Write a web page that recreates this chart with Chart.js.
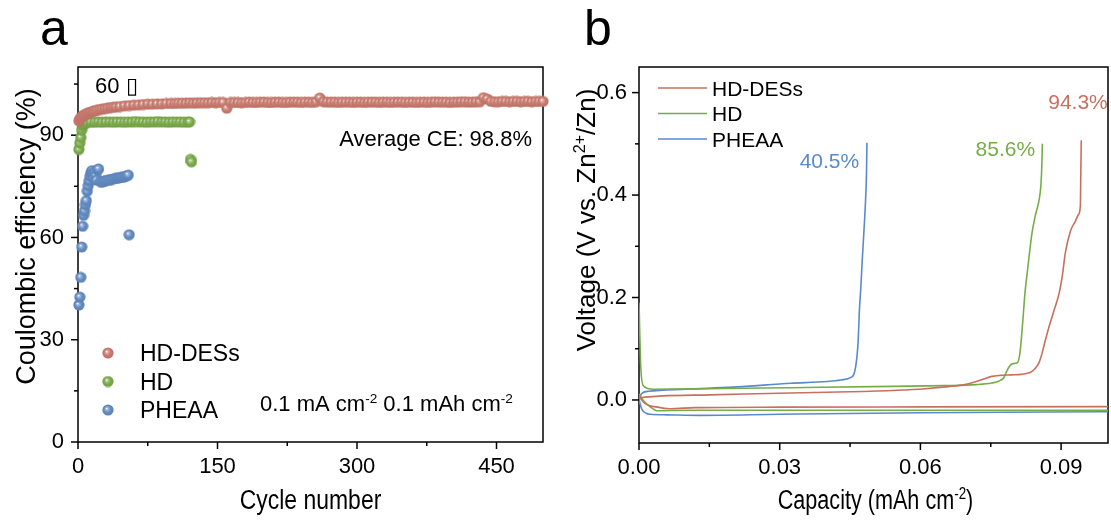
<!DOCTYPE html>
<html>
<head>
<meta charset="utf-8">
<script src="https://cdn.jsdelivr.net/npm/chart.js@4.4.1/dist/chart.umd.min.js"></script>
<style>
  html, body { margin: 0; padding: 0; background: #fff; }
  #wrap { position: relative; width: 1111px; height: 520px; }
  canvas { position: absolute; top: 0; }
  #chartA { left: 0; width: 560px; height: 520px; }
  #chartB { left: 560px; width: 551px; height: 520px; }
</style>
</head>
<body>
<div id="wrap">
  <canvas id="chartA" width="560" height="520"></canvas>
  <canvas id="chartB" width="551" height="520"></canvas>
</div>
<script>
// ---- panel a: coulombic efficiency vs cycle ----
const cycDES = [1, 2, 3, 4, 5, 6, 8, 10, 12, 14, 16, 18, 20, 23, 26, 29, 32, 35, 38, 41, 45, 50, 55, 60, 65, 70, 75, 80, 85, 90, 95,
  100, 104, 108, 112, 116, 120, 124, 128, 132, 136, 140, 144, 148, 152, 156, 160, 164, 168, 172, 176,
  180, 184, 188, 192, 196, 200, 204, 208, 212, 216, 220, 224, 228, 232, 236, 240, 244, 248, 252, 256,
  260, 264, 268, 272, 276, 280, 284, 288, 292, 296, 300, 304, 308, 312, 316, 320, 324, 328, 332, 336,
  340, 344, 348, 352, 356, 360, 364, 368, 372, 376, 380, 384, 388, 392, 396, 400, 404, 408, 412, 416,
  420, 424, 428, 432, 436, 440, 444, 448, 452, 456, 460, 464, 468, 472, 476, 480, 484, 488, 492, 496, 500];
const ceDES = [94.2, 94.7, 95.1, 95.4, 95.6, 95.8, 96.1, 96.4, 96.6, 96.8, 97.0, 97.1, 97.3, 97.5, 97.7, 97.8, 98.0, 98.1, 98.2, 98.3, 98.4, 98.6, 98.7, 98.8, 98.9, 99.0, 99.1, 99.1, 99.2, 99.2, 99.3,
  99.3, 99.3, 99.4, 99.4, 99.4, 99.5, 99.4, 99.5, 99.5, 99.5, 99.5, 99.6, 99.5, 99.6, 99.6, 97.9, 99.6, 99.6, 99.6, 99.5,
  99.6, 99.7, 99.6, 99.6, 99.7, 99.7, 99.6, 99.6, 99.7, 99.7, 99.6, 99.6, 99.7, 99.7, 99.7, 99.6, 99.7, 99.7, 99.6, 99.8,
  100.9, 99.8, 99.7, 99.7, 99.7, 99.6, 99.7, 99.7, 99.7, 99.6, 99.7, 99.7, 99.6, 99.7, 99.7, 99.7, 99.6, 99.7, 99.7, 99.6,
  99.7, 99.7, 99.7, 99.6, 99.7, 99.7, 99.6, 99.7, 99.7, 99.6, 99.7, 99.8, 99.7, 99.7, 99.7, 99.6, 99.7, 99.7, 99.8, 99.8,
  99.7, 99.7, 99.8, 99.8, 101.0, 100.6, 99.9, 99.8, 99.8, 99.9, 99.9, 99.8, 99.9, 99.9, 99.8, 99.9, 99.9, 99.8, 99.9, 99.9, 99.9];

const cycHD = [1, 2, 3, 4, 5, 6, 8, 10, 14, 18, 22, 26, 30, 34, 38, 42, 46, 50, 54, 58, 62, 66, 70, 74, 78, 82, 86, 90, 94, 98,
  102, 106, 110, 114, 118, 120, 121, 122];
const ceHD = [85.8, 87.7, 89.3, 91.5, 92.8, 93.3, 93.6, 93.7, 93.8, 93.8, 93.9, 93.8, 93.9, 93.9, 93.8, 93.9, 93.9, 93.8, 93.9, 93.9,
  94.0, 93.9, 93.9, 93.8, 93.9, 93.9, 94.0, 93.9, 93.9, 93.8, 93.9, 93.9, 93.9, 93.8, 93.9, 93.9, 82.9, 82.2];

const cycPH = [1, 2, 3, 4, 5, 6, 7, 8, 9, 10, 11, 12, 13, 14, 15, 16, 17, 18, 19, 20, 21, 22, 24, 26, 28, 30, 32, 34, 36, 38,
  40, 42, 44, 46, 48, 50, 52, 54, 55];
const cePH = [40.2, 42.5, 48.3, 57.2, 63.3, 66.5, 67.8, 69.6, 70.8, 73.6, 75.2, 76.6, 78.0, 79.0, 79.6, 78.8, 77.6, 79.3, 78.2, 76.8,
  79.8, 80.1, 76.4, 76.2, 76.5, 76.7, 76.8, 76.9, 77.0, 77.2, 77.3, 77.4, 77.5, 77.6, 77.7, 77.8, 78.0, 78.3, 60.8];

const cycleTicks = [0, 150, 300, 450];
const cycleMinor = [75, 225, 375];
const ceTicks = [0, 30, 60, 90];
const ceMinor = [15, 45, 75, 105];

// ---- panel b: voltage profiles ----
const desChargeCap = [0, 0.002, 0.005, 0.015, 0.0324, 0.045, 0.055, 0.061, 0.066, 0.0695, 0.0716, 0.0735, 0.0752, 0.077, 0.0795, 0.0815,
  0.0828, 0.0838, 0.0846, 0.0853, 0.0859, 0.0866, 0.0874, 0.0885, 0.0896, 0.0903, 0.0909, 0.092, 0.093, 0.0937, 0.0941, 0.0942, 0.0943];
const desChargeV = [0.004, 0.006, 0.008, 0.010, 0.0137, 0.016, 0.019, 0.022, 0.026, 0.030, 0.035, 0.041, 0.046, 0.048, 0.049, 0.050,
  0.052, 0.056, 0.063, 0.073, 0.09, 0.115, 0.142, 0.175, 0.209, 0.245, 0.287, 0.33, 0.348, 0.362, 0.378, 0.44, 0.507];
const hdChargeCap = [0, 0.0004, 0.001, 0.003, 0.015, 0.0324, 0.05, 0.065, 0.072, 0.0752, 0.0768, 0.0778, 0.0785, 0.0792, 0.0798, 0.0806,
  0.0812, 0.0818, 0.0823, 0.0828, 0.0833, 0.0838, 0.0845, 0.0853, 0.0857, 0.0859, 0.086];
const hdChargeV = [0.19, 0.06, 0.027, 0.021, 0.022, 0.024, 0.026, 0.028, 0.030, 0.033, 0.037, 0.044, 0.058, 0.068, 0.071, 0.072,
  0.09, 0.15, 0.209, 0.25, 0.29, 0.326, 0.36, 0.39, 0.42, 0.46, 0.5];
const phChargeCap = [0, 0.0005, 0.002, 0.01, 0.02, 0.0324, 0.04, 0.043, 0.0452, 0.0458, 0.0462, 0.0467, 0.047, 0.0473, 0.0476, 0.0479,
  0.0482, 0.0485, 0.0486];
const phChargeV = [-0.005, 0.012, 0.017, 0.021, 0.025, 0.0325, 0.036, 0.039, 0.044, 0.050, 0.065, 0.11, 0.176, 0.22, 0.273, 0.32,
  0.37, 0.44, 0.502];

const desDischCap = [0, 0.001, 0.004, 0.0066, 0.012, 0.03, 0.06, 0.1];
const desDischV = [0.01, -0.005, -0.014, -0.017, -0.015, -0.014, -0.0135, -0.013];
const hdDischCap = [0, 0.001, 0.0025, 0.0038, 0.01, 0.04, 0.1];
const hdDischV = [0.012, -0.002, -0.014, -0.021, -0.020, -0.020, -0.020];
const phDischCap = [0, 0.0006, 0.0015, 0.0024, 0.006, 0.013, 0.03, 0.06, 0.1];
const phDischV = [0.0, -0.018, -0.026, -0.028, -0.029, -0.030, -0.028, -0.025, -0.023];

const capTicks = [0, 0.03, 0.06, 0.09];
const capMinor = [0.015, 0.045, 0.075];
const voltTicks = [0, 0.2, 0.4, 0.6];
const voltMinor = [0.1, 0.3, 0.5];

const seriesNames = ['HD-DESs', 'HD', 'PHEAA'];
const ceLabels = ['94.3%', '85.6%', '40.5%'];

// colours
const dotColors = ['#C97A6E', '#7BAA4A', '#628BC2'];
const lineColors = ['#C8705F', '#76AD48', '#5A8ACB'];

const fontReg = '"Liberation Sans", Arial, sans-serif';

const toXY = (xs, ys) => xs.map((x, i) => ({ x, y: ys[i] }));

const mix = (hex, target, t) => {
  const n = parseInt(hex.slice(1), 16);
  const c = [(n >> 16) & 255, (n >> 8) & 255, n & 255];
  return 'rgb(' + c.map(v => Math.round(v + (target - v) * t)).join(',') + ')';
};

// shaded ball marker like the origin plot
const makeBall = (color) => {
  const c = document.createElement('canvas');
  c.width = 12; c.height = 12;
  const g = c.getContext('2d');
  const grd = g.createRadialGradient(4.6, 4.4, 0.2, 6, 6, 6);
  grd.addColorStop(0, '#ffffff');
  grd.addColorStop(0.18, mix(color, 255, 0.4));
  grd.addColorStop(0.55, color);
  grd.addColorStop(1, mix(color, 0, 0.08));
  g.fillStyle = grd;
  g.beginPath();
  g.arc(6, 6, 5.6, 0, Math.PI * 2);
  g.fill();
  return c;
};
const balls = dotColors.map(makeBall);

// text with superscripts: parts = [{t, sup}], sx squeezes horizontally
const drawRich = (ctx, parts, x, y, size, align, sx = 1) => {
  const supSize = size * 0.62;
  let w = 0;
  parts.forEach(p => {
    ctx.font = (p.sup ? supSize : size) + 'px ' + fontReg;
    w += ctx.measureText(p.t).width;
  });
  ctx.save();
  ctx.translate(x, y);
  ctx.scale(sx, 1);
  let cx = align === 'center' ? -w / 2 : align === 'right' ? -w : 0;
  ctx.textAlign = 'left';
  ctx.textBaseline = 'alphabetic';
  parts.forEach(p => {
    ctx.font = (p.sup ? supSize : size) + 'px ' + fontReg;
    ctx.fillText(p.t, cx, p.sup ? -size * 0.38 : 0);
    cx += ctx.measureText(p.t).width;
  });
  ctx.restore();
};

// frame + outward tick marks
const drawFrame = (chart, major, minor) => {
  const { ctx, chartArea: a, scales } = chart;
  ctx.save();
  ctx.strokeStyle = '#000';
  ctx.lineWidth = 1.5;
  ctx.strokeRect(a.left, a.top, a.right - a.left, a.bottom - a.top);
  const tick = (scale, v, len) => {
    const p = scale.getPixelForValue(v);
    ctx.beginPath();
    if (scale.axis === 'x') { ctx.moveTo(p, a.bottom); ctx.lineTo(p, a.bottom + len); }
    else { ctx.moveTo(a.left, p); ctx.lineTo(a.left - len, p); }
    ctx.stroke();
  };
  major.x.forEach(v => tick(scales.x, v, 7));
  minor.x.forEach(v => tick(scales.x, v, 4));
  major.y.forEach(v => tick(scales.y, v, 7));
  minor.y.forEach(v => tick(scales.y, v, 4));
  ctx.restore();
};

const axisBase = (min, max, ticks, fmt, padding, fit) => ({
  type: 'linear',
  min, max,
  afterBuildTicks: s => { s.ticks = ticks.map(v => ({ value: v })); },
  afterFit: fit,
  grid: { display: false, drawTicks: false },
  border: { display: false },
  ticks: {
    autoSkip: false, maxRotation: 0, padding,
    color: '#000',
    font: { family: fontReg, size: 22 },
    callback: fmt,
  },
});

// ---------- chart a ----------
const decorA = {
  id: 'decorA',
  beforeDatasetsDraw(chart) {
    drawFrame(chart, { x: cycleTicks, y: ceTicks }, { x: cycleMinor, y: ceMinor });
  },
  afterDraw(chart) {
    const { ctx, chartArea: a } = chart;
    ctx.save();
    ctx.fillStyle = '#000';
    drawRich(ctx, [{ t: 'a' }], 40, 45, 50, 'left');
    drawRich(ctx, [{ t: '60 \u25AF' }], 95, 93, 22, 'left');
    drawRich(ctx, [{ t: 'Average CE: 98.8%' }], 532, 146, 22, 'right');
    drawRich(ctx, [{ t: '0.1 mA cm' }, { t: '-2', sup: true }, { t: ' 0.1 mAh cm' }, { t: '-2', sup: true }], 260, 411, 22, 'left');
    seriesNames.forEach((n, i) => {
      const y = 353 + i * 28.5;
      ctx.drawImage(balls[i], 102, y - 6);
      drawRich(ctx, [{ t: n }], 140, y + 8, 23, 'left');
    });
    drawRich(ctx, [{ t: 'Cycle number' }], (a.left + a.right) / 2, 509, 27, 'center', 0.85);
    ctx.translate(35, (a.top + a.bottom) / 2 - 18);
    ctx.rotate(-Math.PI / 2);
    drawRich(ctx, [{ t: 'Coulombic efficiency (%)' }], 0, 0, 27, 'center');
    ctx.restore();
  }
};

const dotSet = (label, xs, ys, i) => ({
  label,
  data: toXY(xs, ys),
  pointStyle: balls[i],
  pointRadius: 5.6,
  clip: false,
});

new Chart(document.getElementById('chartA'), {
  type: 'scatter',
  data: {
    datasets: [
      dotSet(seriesNames[0], cycDES, ceDES, 0),
      dotSet(seriesNames[1], cycHD, ceHD, 1),
      dotSet(seriesNames[2], cycPH, cePH, 2),
    ],
  },
  options: {
    responsive: false,
    animation: false,
    devicePixelRatio: 1,
    layout: { padding: { top: 67, right: 17, left: 0, bottom: 0 } },
    plugins: { legend: { display: false }, tooltip: { enabled: false } },
    scales: {
      x: axisBase(0, 500, cycleTicks, v => String(v), 12, s => { s.height = 78; }),
      y: axisBase(0, 110, ceTicks, v => String(v), 14, s => { s.width = 78; }),
    },
  },
  plugins: [decorA],
});

// ---------- chart b ----------
const decorB = {
  id: 'decorB',
  beforeDatasetsDraw(chart) {
    drawFrame(chart, { x: capTicks, y: voltTicks }, { x: capMinor, y: voltMinor });
  },
  afterDraw(chart) {
    const { ctx, chartArea: a, scales } = chart;
    ctx.save();
    ctx.fillStyle = '#000';
    drawRich(ctx, [{ t: 'b' }], 24, 45, 50, 'left');
    seriesNames.forEach((n, i) => {
      const y = 88 + i * 25.5;
      ctx.strokeStyle = lineColors[i];
      ctx.lineWidth = 1.5;
      ctx.beginPath();
      ctx.moveTo(98, y);
      ctx.lineTo(147, y);
      ctx.stroke();
      ctx.fillStyle = '#000';
      drawRich(ctx, [{ t: n }], 152, y + 7.5, 21, 'left');
    });
    const spots = [[0.0936, 0.583], [0.0781, 0.49], [0.0406, 0.468]];
    ceLabels.forEach((t, i) => {
      ctx.fillStyle = lineColors[i];
      drawRich(ctx, [{ t }], scales.x.getPixelForValue(spots[i][0]), scales.y.getPixelForValue(spots[i][1]) + 7.5, 21, 'center');
    });
    ctx.fillStyle = '#000';
    drawRich(ctx, [{ t: 'Capacity (mAh cm' }, { t: '-2', sup: true }, { t: ')' }], (a.left + a.right) / 2 + 2, 509, 27, 'center', 0.8);
    ctx.translate(35, (a.top + a.bottom) / 2 - 35);
    ctx.rotate(-Math.PI / 2);
    drawRich(ctx, [{ t: 'Voltage (V vs. Zn' }, { t: '2+', sup: true }, { t: '/Zn)' }], 0, 0, 26, 'center');
    ctx.restore();
  }
};

const lineSet = (xs, ys, i) => ({
  data: toXY(xs, ys),
  showLine: true,
  borderColor: lineColors[i],
  borderWidth: 1.6,
  pointRadius: 0,
  fill: false,
  cubicInterpolationMode: 'monotone',
});

new Chart(document.getElementById('chartB'), {
  type: 'scatter',
  data: {
    datasets: [
      lineSet(desDischCap, desDischV, 0),
      lineSet(hdDischCap, hdDischV, 1),
      lineSet(phDischCap, phDischV, 2),
      lineSet(desChargeCap, desChargeV, 0),
      lineSet(hdChargeCap, hdChargeV, 1),
      lineSet(phChargeCap, phChargeV, 2),
    ],
  },
  options: {
    responsive: false,
    animation: false,
    devicePixelRatio: 1,
    layout: { padding: { top: 67, right: 3, left: 0, bottom: 0 } },
    plugins: { legend: { display: false }, tooltip: { enabled: false } },
    scales: {
      x: axisBase(0, 0.1, capTicks, v => v.toFixed(2), 12, s => { s.height = 77; }),
      y: axisBase(-0.084, 0.65, voltTicks, v => v.toFixed(1), 12, s => { s.width = 79; }),
    },
  },
  plugins: [decorB],
});
</script>
</body>
</html>
